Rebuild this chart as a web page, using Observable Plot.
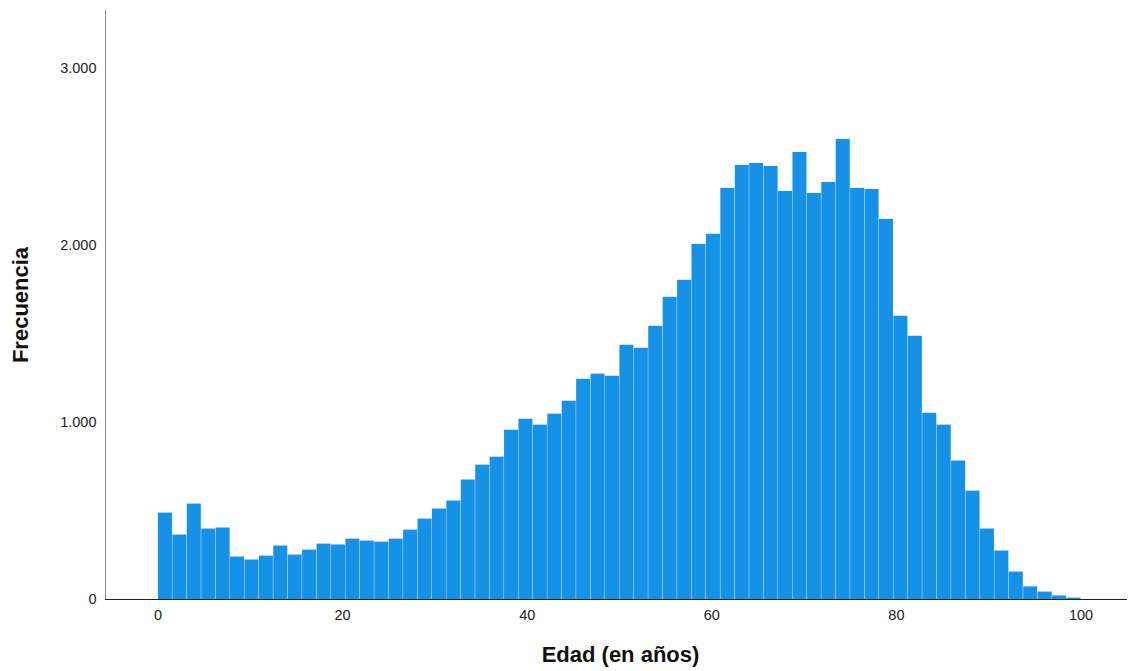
<!DOCTYPE html>
<html>
<head>
<meta charset="utf-8">
<script src="https://cdn.jsdelivr.net/npm/d3@7"></script>
<script src="https://cdn.jsdelivr.net/npm/@observablehq/plot@0.6"></script>
<style>
  html, body { margin: 0; padding: 0; background: #fff; }
  #chart svg { display: block; }
</style>
</head>
<body>
<div id="chart"></div>
<script>
// Histogram: 64 bins covering ages 0–100
const binCount = 64;
const ageMin = 0;
const ageMax = 100;
const frequencies = [
  488, 364, 539, 398, 404, 240, 223, 245, 302, 251,
  279, 313, 308, 341, 330, 324, 341, 392, 454, 511,
  556, 675, 759, 804, 956, 1018, 985, 1047, 1120, 1244,
  1273, 1261, 1436, 1419, 1543, 1707, 1803, 2006, 2063, 2322,
  2452, 2463, 2446, 2305, 2525, 2294, 2356, 2599, 2322, 2316,
  2147, 1600, 1487, 1052, 985, 782, 612, 398, 274, 155,
  71, 42, 20, 8
];
const xTicks = [0, 20, 40, 60, 80, 100];
const yTicks = [0, 1000, 2000, 3000];
const xTitle = "Edad (en años)";
const yTitle = "Frecuencia";

const binWidth = (ageMax - ageMin) / binCount;
const bins = frequencies.map((f, i) => ({
  x1: ageMin + i * binWidth,
  x2: ageMin + (i + 1) * binWidth,
  count: f
}));

const fmt = d3.format(",");
const esFmt = d => fmt(d).replace(/,/g, ".");

const chart = Plot.plot({
  width: 1128,
  height: 671,
  marginLeft: 105,
  marginRight: 1,
  marginTop: 10,
  marginBottom: 72,
  style: { fontFamily: "'Liberation Sans', Arial, sans-serif", fontSize: "14px", color: "#222", background: "#fff" },
  x: { domain: [-5.69, 105.04] },
  y: { domain: [0, 3327] },
  marks: [
    Plot.rectY(bins, { x1: "x1", x2: "x2", y: "count", fill: "#1591e8", insetLeft: 0.4, insetRight: 0 }),
    Plot.frame({ anchor: "left", stroke: "#888", strokeWidth: 1 }),
    Plot.ruleY([0], { stroke: "#222", strokeWidth: 1 }),
    Plot.axisX({ ticks: xTicks, tickSize: 0, tickPadding: 10, label: null, fontSize: 14.5 }),
    Plot.axisY({ ticks: yTicks, tickSize: 0, tickPadding: 9, label: null, tickFormat: esFmt, fontSize: 14.5, style: { letterSpacing: "0.8px" } }),
    Plot.text([xTitle], { frameAnchor: "bottom", dx: 4, dy: 62, fontWeight: "bold", fontSize: 22, fill: "#111" }),
    Plot.text([yTitle], { frameAnchor: "left", textAnchor: "middle", dx: -85, rotate: -90, fontWeight: "bold", fontSize: 22, fill: "#111" })
  ]
});

document.getElementById("chart").appendChild(chart);
</script>
</body>
</html>
